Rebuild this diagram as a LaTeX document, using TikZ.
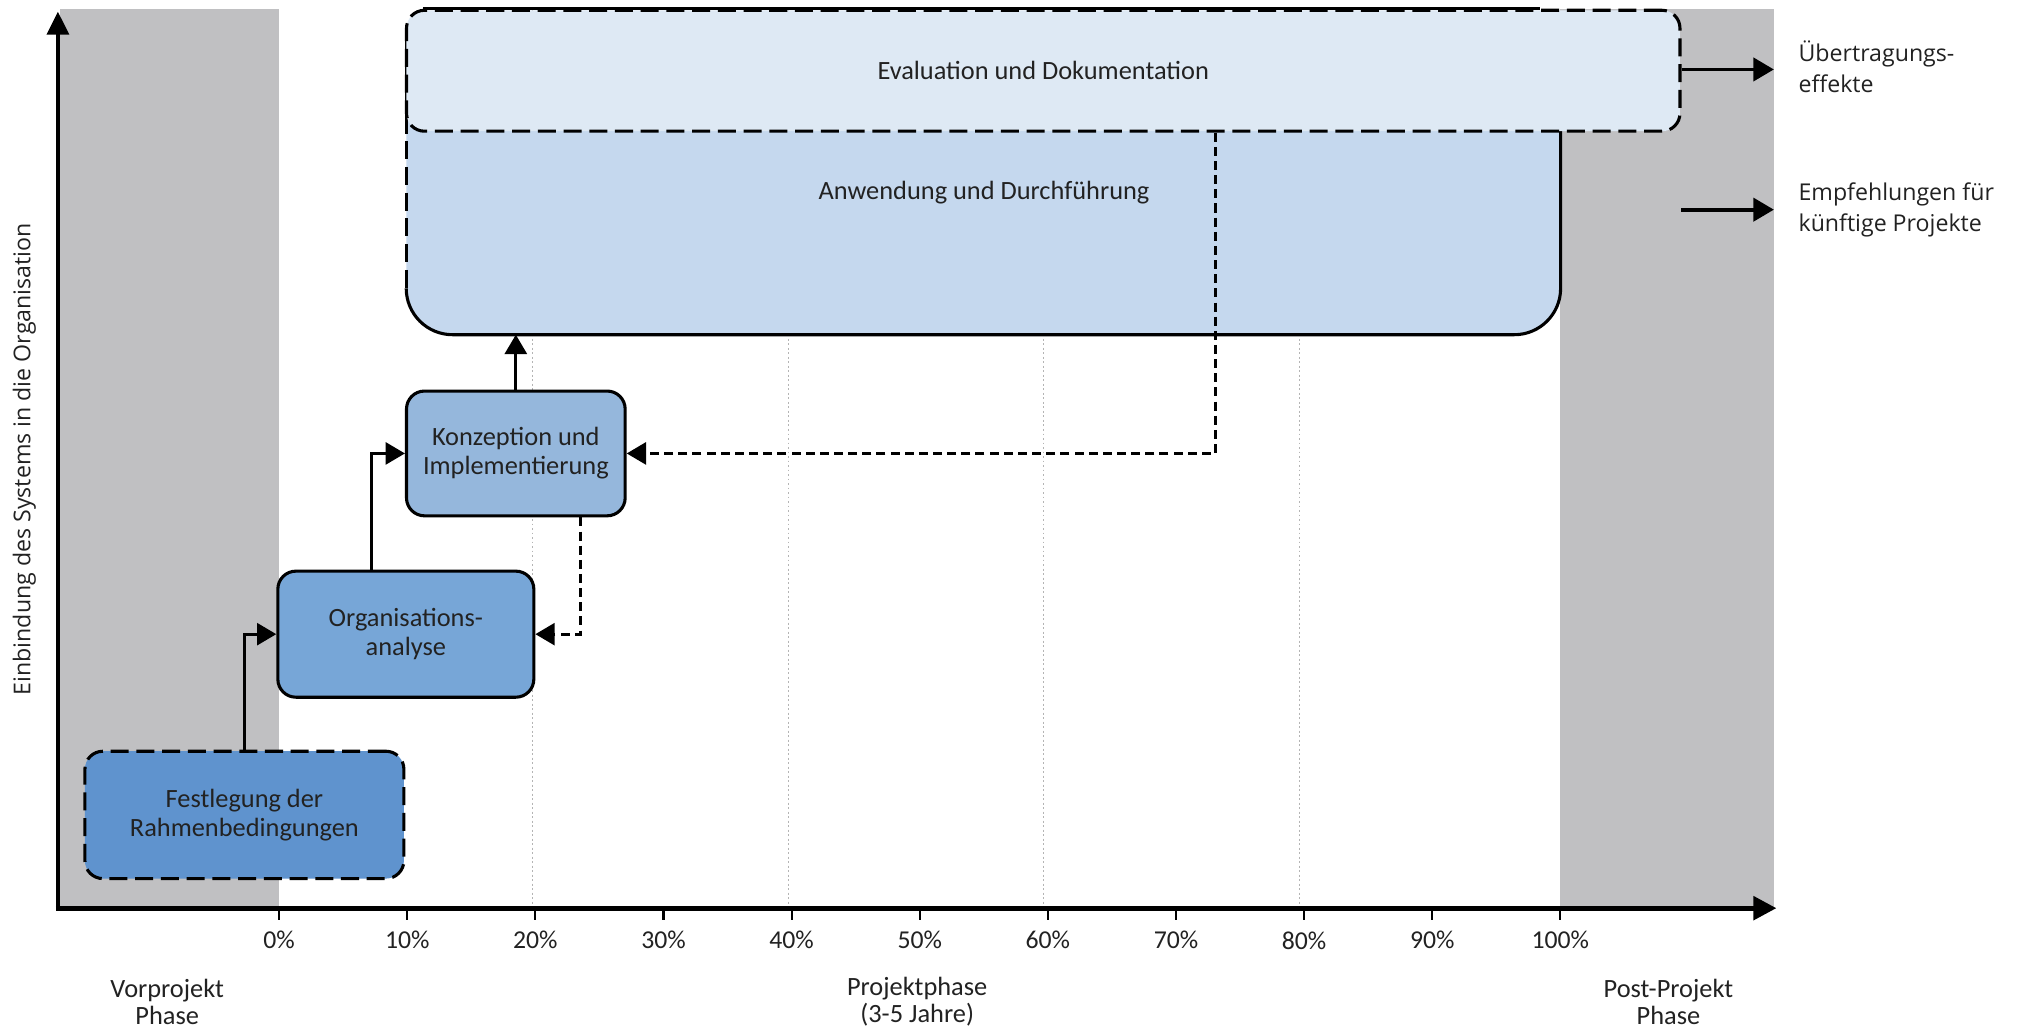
\documentclass[tikz,border=0pt]{standalone}
\usepackage{fontspec}
\setmainfont{Carlito}
\newfontfamily\osans{Open Sans}
\usetikzlibrary{arrows.meta,calc}
\definecolor{bandgray}{HTML}{C0C0C2}
\definecolor{evalfill}{HTML}{DEE9F4}
\definecolor{anwfill}{HTML}{C5D8EE}
\definecolor{konzfill}{HTML}{95B7DC}
\definecolor{orgafill}{HTML}{77A6D7}
\definecolor{festfill}{HTML}{5F93CE}
\definecolor{textdark}{HTML}{222222}
\definecolor{gridgray}{HTML}{B4B4B4}
\begin{document}
\begin{tikzpicture}[x=1pt,y=-1pt,
  boxtext/.style={text=textdark, font=\fontsize{20.5}{22.5}\selectfont, align=center},
  phasebox/.style={boxtext, rounded corners=14pt, line width=2.4pt, draw=black, inner sep=0pt},
  dashbox/.style={dash pattern=on 14pt off 6pt},
  conn/.style={line width=2.4pt, -{Triangle[length=15pt,width=17pt]}},
  dconn/.style={conn, dash pattern=on 7pt off 4pt},
  outarrow/.style={line width=3pt, -{Triangle[length=16pt,width=18pt]}},
  gridline/.style={gridgray, line width=1pt, dash pattern=on 1.5pt off 2pt},
  axisline/.style={line width=3pt, -{Triangle[length=18pt,width=17pt]}},
  ticklab/.style={text=textdark, font=\fontsize{20}{21}\selectfont},
  phaselab/.style={text=textdark, font=\fontsize{20.5}{21}\selectfont, align=center},
  sidelab/.style={text=textdark, font=\osans\fontsize{18}{24}\selectfont, align=left, anchor=west, inner sep=0pt}
]
\useasboundingbox (0,0) rectangle (1568,802);
\fill[white] (0,0) rectangle (1568,802);
% phase bands
\fill[bandgray] (47,7) rectangle (217,706);
\fill[bandgray] (1213,7) rectangle (1379,706);
% grid lines
\foreach \gx in {414,613,811,1010} \draw[gridline] (\gx,8) -- (\gx,705);
% Anwendung box
\node[draw=none, fill=anwfill, rounded corners=36pt, minimum width=897pt, minimum height=230pt, inner sep=0pt] (anw) at (764.5,145) {};
\draw[line width=2.4pt, dashbox] (anw.north west) -- ([yshift=36pt]anw.south west);
\draw[line width=2.4pt, rounded corners=36pt] ([yshift=36pt]anw.south west) -- (anw.south west) -- (anw.south east) -- (anw.north east);
\node[boxtext] (anwlabel) at (765,150) {Anwendung und Durchführung};
% Evaluation box
\node[phasebox, fill=evalfill, dashbox, minimum width=990pt, minimum height=94pt] (eval) at (811,55) {Evaluation und Dokumentation};
\draw[line width=2.4pt] ([xshift=14pt]eval.north west) -- ([xshift=-110pt]eval.north east);
% step boxes
\node[phasebox, fill=konzfill, minimum width=170pt, minimum height=97pt] (konz) at (401,352.5) {Konzeption und\\Implementierung};
\node[phasebox, fill=orgafill, minimum width=199pt, minimum height=98pt] (orga) at (315.5,493) {Organisations-\\analyse};
\node[phasebox, fill=festfill, dashbox, minimum width=248pt, minimum height=99pt] (fest) at (190,633.5) {Festlegung der\\Rahmenbedingungen};
% connectors
\draw[conn] (fest.north) |- (orga.west);
\draw[conn] ([xshift=-26.5pt]orga.north) |- (konz.west);
\draw[conn] (konz.north) -- (konz.north |- anw.south);
\draw[dconn] ([xshift=50pt]konz.south) |- (orga.east);
\draw[dconn] ([xshift=134pt]eval.south) |- (konz.east);
% outputs
\coordinate (out1) at (1379,54);
\coordinate (src2) at (1307,163);
\coordinate (out2) at (1379,163);
\draw[outarrow] (eval.east |- out1) -- (out1);
\draw[outarrow] (src2) -- (out2);
\node[sidelab] (uebert) at (1398,52) {Übertragungs-\\effekte};
\node[sidelab] (empf) at (1398,163) {Empfehlungen für\\künftige Projekte};
% axes
\coordinate (orig) at (45,706);
\coordinate (ytip) at (45,9);
\coordinate (xtip) at (1381,706);
\draw[axisline] ([yshift=-2pt]orig) -- (ytip);
\draw[line width=4pt, -{Triangle[length=18pt,width=18pt]}] ([xshift=-1.5pt]orig) -- (xtip);
\node[text=textdark, font=\osans\fontsize{18}{20}\selectfont, rotate=90] (ylab) at (19,357) {Einbindung des Systems in die Organisation};
% ticks and labels
\foreach \i in {0,...,10} {
  \pgfmathsetmacro{\tx}{217+99.6*\i}
  \draw[line width=1.6pt] (\tx,707) -- (\tx,715);
  \pgfmathtruncatemacro{\pc}{10*\i}
  \node[ticklab] (tick\i) at (\tx,731) {\pc\%};
}
\node[phaselab] (vorp) at (130,779) {Vorprojekt\\Phase};
\node[phaselab] (projp) at (713,779) {Projektphase\\(3-5 Jahre)};
\node[phaselab] (postp) at (1297,779) {Post-Projekt\\Phase};
\end{tikzpicture}
\end{document}
